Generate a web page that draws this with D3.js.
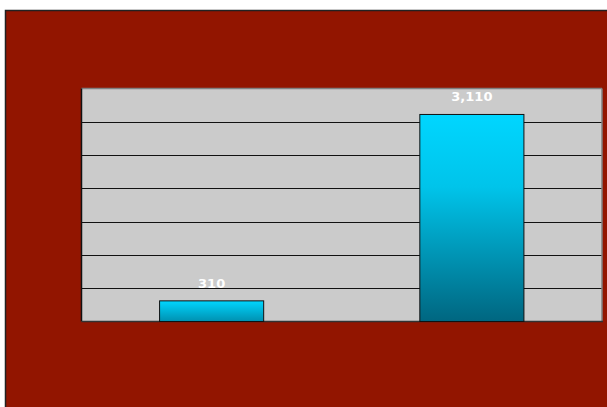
<!DOCTYPE html>
<html>
<head>
<meta charset="utf-8">
<script src="https://cdn.jsdelivr.net/npm/d3@7"></script>
<style>
  html, body { margin: 0; padding: 0; background: #ffffff; }
  svg { display: block; }
</style>
</head>
<body>
<svg id="chart" width="607" height="407"></svg>
<script>
// Chart data
const categories = ["A", "B"];
const values = [310, 3110];
const labels = ["310", "3,110"];
const yTicks = [0, 500, 1000, 1500, 2000, 2500, 3000, 3500];

const svg = d3.select("#chart");
const W = 607, H = 407;

// Outer panel
svg.append("rect")
  .attr("x", 5.5).attr("y", 10.5)
  .attr("width", W).attr("height", H)
  .attr("fill", "#921500")
  .attr("stroke", "#222").attr("stroke-width", 1.5);

const plot = { left: 81.5, right: 602, top: 88.5, bottom: 321.5 };

const x = d3.scaleBand()
  .domain(categories)
  .range([plot.left, plot.right])
  .paddingInner(0.6)
  .paddingOuter(0.3);

const y = d3.scaleLinear()
  .domain([0, 3500])
  .range([plot.bottom, plot.top]);

// Gradient fill for bars
const defs = svg.append("defs");
const grad = defs.append("linearGradient")
  .attr("id", "barGrad")
  .attr("x1", 0).attr("y1", 0).attr("x2", 0).attr("y2", 1);
grad.append("stop").attr("offset", "0%").attr("stop-color", "#00d6ff");
grad.append("stop").attr("offset", "35%").attr("stop-color", "#00c4ea");
grad.append("stop").attr("offset", "100%").attr("stop-color", "#006680");

const gradSmall = defs.append("linearGradient")
  .attr("id", "barGradSmall")
  .attr("x1", 0).attr("y1", 0).attr("x2", 0).attr("y2", 1);
gradSmall.append("stop").attr("offset", "0%").attr("stop-color", "#00d6ff");
gradSmall.append("stop").attr("offset", "100%").attr("stop-color", "#0090b0");

// Plot background
svg.append("rect")
  .attr("x", plot.left).attr("y", plot.top)
  .attr("width", plot.right - plot.left).attr("height", plot.bottom - plot.top)
  .attr("fill", "#cbcbcb");

// Gridlines
svg.append("g")
  .selectAll("line")
  .data(yTicks.slice(1, -1))
  .join("line")
  .attr("x1", plot.left).attr("x2", plot.right)
  .attr("y1", d => Math.round(y(d)) + 0.5)
  .attr("y2", d => Math.round(y(d)) + 0.5)
  .attr("stroke", "#111").attr("stroke-width", 1);

// Plot frame: gray top/right, dark left/bottom
svg.append("line")
  .attr("x1", plot.left).attr("x2", plot.right)
  .attr("y1", plot.top).attr("y2", plot.top)
  .attr("stroke", "#808080").attr("stroke-width", 1.5);
svg.append("line")
  .attr("x1", plot.right).attr("x2", plot.right)
  .attr("y1", plot.top).attr("y2", plot.bottom)
  .attr("stroke", "#808080").attr("stroke-width", 1.5);
svg.append("line")
  .attr("x1", plot.left).attr("x2", plot.left)
  .attr("y1", plot.top).attr("y2", plot.bottom)
  .attr("stroke", "#111").attr("stroke-width", 1.5);
svg.append("line")
  .attr("x1", plot.left).attr("x2", plot.right + 1)
  .attr("y1", plot.bottom).attr("y2", plot.bottom)
  .attr("stroke", "#333").attr("stroke-width", 1.5);

// Bars
svg.append("g")
  .selectAll("rect")
  .data(values)
  .join("rect")
  .attr("x", (d, i) => x(categories[i]))
  .attr("y", d => y(d))
  .attr("width", x.bandwidth())
  .attr("height", d => plot.bottom - y(d))
  .attr("fill", d => d < 1000 ? "url(#barGradSmall)" : "url(#barGrad)")
  .attr("stroke", "#111").attr("stroke-width", 1);

// Value labels
svg.append("g")
  .selectAll("text")
  .data(values)
  .join("text")
  .attr("x", (d, i) => x(categories[i]) + x.bandwidth() / 2)
  .attr("y", d => y(d) - 13)
  .attr("text-anchor", "middle")
  .attr("font-family", "DejaVu Sans, sans-serif")
  .attr("font-size", 13)
  .attr("font-weight", "bold")
  .attr("fill", "#ffffff")
  .text((d, i) => labels[i]);
</script>
</body>
</html>
